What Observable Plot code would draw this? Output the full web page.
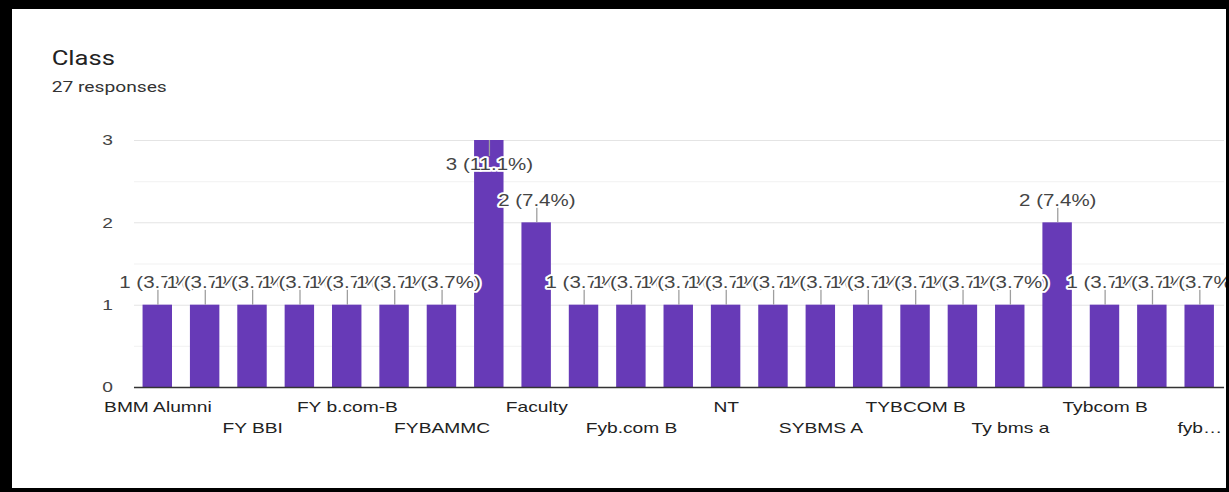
<!DOCTYPE html>
<html>
<head>
<meta charset="utf-8">
<script src="https://cdn.jsdelivr.net/npm/d3@7"></script>
<script src="https://cdn.jsdelivr.net/npm/@observablehq/plot@0.6"></script>
<style>
  html, body { margin: 0; padding: 0; background: #000; width: 1229px; height: 492px; overflow: hidden; }
  #box { position: absolute; left: 12px; top: 9px; width: 1214px; height: 479px; background: #fff; overflow: hidden; }
  #content { position: absolute; left: 0; top: 0; width: 949px; height: 479px; transform: scaleX(1.28); transform-origin: 0 0; }
  #title { position: absolute; left: 31px; top: 39px; font: 20px/20px Roboto, "Liberation Sans", sans-serif; color: #222; white-space: nowrap; }
  #sub { position: absolute; left: 31px; top: 71px; font: 15px/15px Roboto, "Liberation Sans", sans-serif; color: #333; white-space: nowrap; }
  #chart { position: absolute; left: 0; top: 101px; width: 960px; }
  #chart svg { max-width: none !important; }
</style>
</head>
<body>
<div id="box">
  <div id="content">
    <div id="title">Class</div>
    <div id="sub">27 responses</div>
    <div id="chart"></div>
  </div>
</div>
<script>
// Categories in chart order (labels of every other bar are hidden in the reference)
const categories = [
  "BMM Alumni", "FY BAF", "FY BBI", "FY BMS", "FY b.com-B", "FY bms", "FYBAMMC",
  "FYBMS", "Faculty", "Fy bms", "Fyb.com B", "M.com", "NT", "SY BMS", "SYBMS A",
  "SYBMS B", "TYBCOM B", "TYBMS", "Ty bms a", "Ty bms b", "Tybcom B", "Tybms", "fybcom B"
];
const counts = [1, 1, 1, 1, 1, 1, 1, 3, 2, 1, 1, 1, 1, 1, 1, 1, 1, 1, 1, 2, 1, 1, 1];
const yTicks = [0, 1, 2, 3];
const yMinorTicks = [0.5, 1.5, 2.5];

const total = d3.sum(counts);
const data = categories.map((name, i) => ({name, value: counts[i], i}));
const yMax = 3;

const W = 960, H = 347, mT = 30, mB = 70, mL = 95.3, mR = 13.1;
const plotH = H - mT - mB;
const stem = 16 / (plotH / yMax);

const row1 = categories.filter((d, i) => i % 4 === 0);
const row2 = categories.filter((d, i) => i % 4 === 2);
const fmt = d => d === categories[categories.length - 1] ? d.slice(0, 3) + "\u2026" : d;

const chart = Plot.plot({
  width: W, height: H,
  marginTop: mT, marginBottom: mB, marginLeft: mL, marginRight: mR,
  style: {fontFamily: "'Liberation Sans', Arial, sans-serif", fontSize: "15px", background: "transparent", overflow: "visible", maxWidth: "none"},
  x: {domain: categories, paddingInner: 0.37, paddingOuter: 0.185, axis: null},
  y: {domain: [0, yMax], axis: null},
  marks: [
    Plot.gridY({ticks: yMinorTicks, stroke: "#f1f1f1", strokeOpacity: 1}),
    Plot.gridY({ticks: [1, 2, 3], stroke: "#e4e4e4", strokeOpacity: 1}),
    Plot.barY(data, {x: "name", y: "value", fill: "#673ab7"}),
    Plot.ruleY([0], {stroke: "#333", strokeWidth: 1.5}),
    Plot.ruleX(data, {x: "name", y1: "value", y2: d => d.value >= yMax ? d.value - stem : d.value + stem, stroke: "#9e9e9e", strokeWidth: 1}),
    Plot.text(data, {
      x: "name", y: "value",
      text: d => `${d.value} (${(d.value / total * 100).toFixed(1)}%)`,
      fontSize: 16, fill: "#444", stroke: "white", strokeWidth: 3.5
    }),
    Plot.axisY({ticks: yTicks, tickSize: 0, tickPadding: 17, label: null, fontSize: 15, color: "#444", tickFormat: d => String(d)}),
    Plot.axisX({ticks: row1, tickSize: 0, tickPadding: 14, label: null, fontSize: 15, color: "#222", tickFormat: fmt}),
    Plot.axisX({ticks: row2, tickSize: 0, tickPadding: 35, label: null, fontSize: 15, color: "#222", tickFormat: fmt})
  ]
});

// value-label vertical offsets: above the bar, or inside it when the bar reaches the top
d3.select(chart).selectAll("g[aria-label='text'] text").each(function(_, k) {
  const d = data[k];
  const off = d.value >= yMax ? 24 : -22;
  const y = +this.getAttribute("y");
  if (this.hasAttribute("y") && !isNaN(y)) this.setAttribute("y", y + off);
  else {
    const t = this.getAttribute("transform");
    const m = /translate\(([^,]+),([^)]+)\)/.exec(t);
    if (m) this.setAttribute("transform", `translate(${m[1]},${+m[2] + off})`);
  }
});
document.getElementById("chart").appendChild(chart);
</script>
</body>
</html>
